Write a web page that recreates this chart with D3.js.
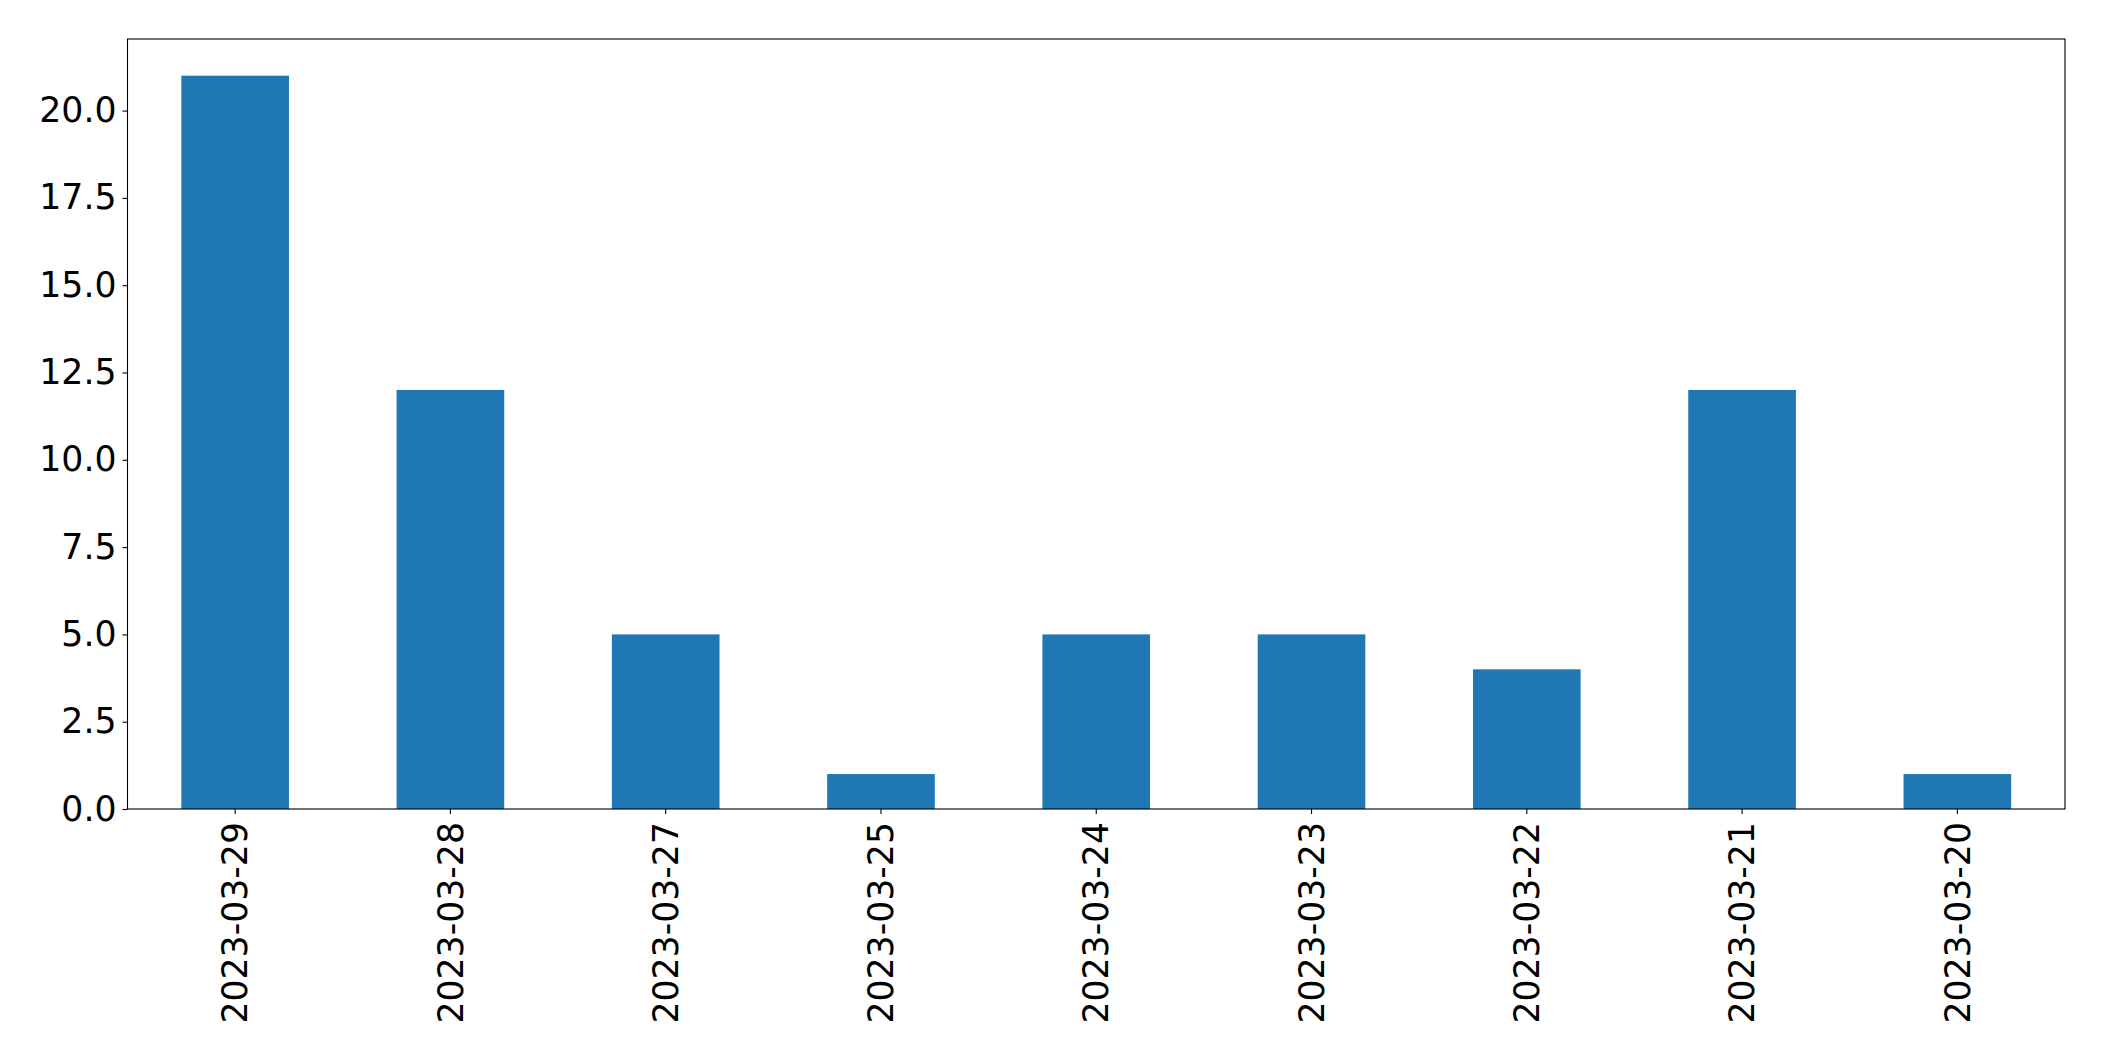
<!DOCTYPE html>
<html><head><meta charset="utf-8">
<script src="https://cdn.jsdelivr.net/npm/d3@7"></script>
<style>html,body{margin:0;padding:0;background:#fff;}svg{display:block;}</style>
</head><body>
<svg id="c" width="2104" height="1061"></svg>
<script>
const categories = ["2023-03-29","2023-03-28","2023-03-27","2023-03-25","2023-03-24","2023-03-23","2023-03-22","2023-03-21","2023-03-20"];
const values = [21,12,5,1,5,5,4,12,1];
const yTicks = [0,2.5,5,7.5,10,12.5,15,17.5,20];

const svg = d3.select("#c");
const L=127.5, R=2065, T=39, B=809;
const fs = 34.7;
const x = d3.scaleBand().domain(categories).range([L,R]).paddingInner(0.5).paddingOuter(0.25);
const y = d3.scaleLinear().domain([0, d3.max(values)*1.05]).range([B,T]);

svg.append("g").selectAll("rect").data(values).join("rect")
  .attr("x",(d,i)=>x(categories[i])).attr("width",x.bandwidth())
  .attr("y",d=>y(d)).attr("height",d=>B-y(d)).attr("fill","#1f77b4");

const yAxis = svg.append("g").attr("transform",`translate(${L},0)`)
  .call(d3.axisLeft(y).tickValues(yTicks).tickFormat(d3.format(".1f")).tickSize(5).tickPadding(6));
const xAxis = svg.append("g").attr("transform",`translate(0,${B})`)
  .call(d3.axisBottom(x).tickSize(5).tickPadding(5));
[yAxis,xAxis].forEach(a=>{
  a.select(".domain").remove();
  a.selectAll("line").attr("stroke","#000").attr("stroke-width",1.1);
  a.selectAll("text").attr("font-family","DejaVu Sans").attr("font-size",fs).attr("fill","#000");
});
xAxis.selectAll("text")
  .attr("transform","rotate(-90)")
  .attr("text-anchor","end").attr("dy","0.35em").attr("x",-13).attr("y",0);

svg.append("rect").attr("x",L).attr("y",T).attr("width",R-L).attr("height",B-T)
  .attr("fill","none").attr("stroke","#000").attr("stroke-width",1.1);
</script>
</body></html>
